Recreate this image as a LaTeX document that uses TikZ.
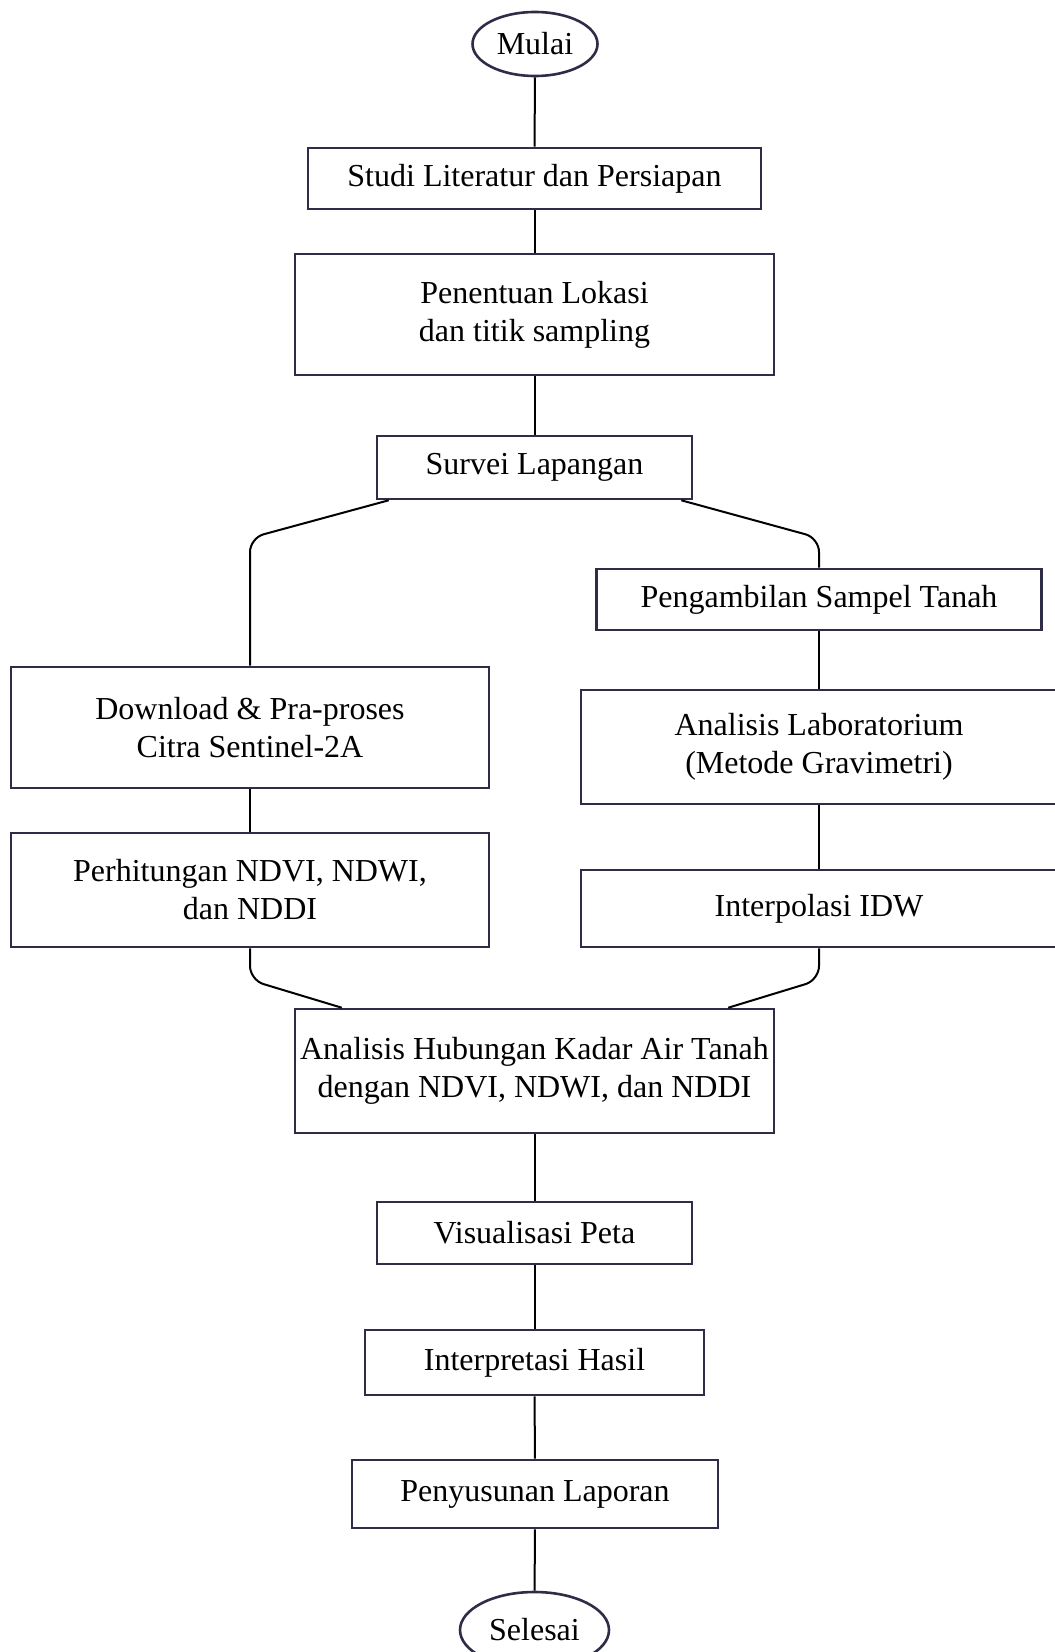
\documentclass[tikz,border=0pt]{standalone}
\usepackage{fontspec}
\setmainfont{Liberation Serif}
\usepackage{tikz}
\usetikzlibrary{positioning, shapes.geometric, calc}
\definecolor{boxline}{HTML}{2E2D48}

\begin{document}
\begin{tikzpicture}[x=0.5pt, y=-0.5pt, font=\fontsize{16}{19}\selectfont,
    main/.style = {draw=boxline, line width=1.3pt, rectangle, align=center, inner sep=0pt},
    term/.style = {draw=boxline, line width=1.3pt, ellipse, inner sep=0pt},
    link/.style = {black, line width=1pt, rounded corners=7pt}]
            \useasboundingbox (0,0) rectangle (1054,1652);
            \node[term, minimum width=62.5pt, minimum height=32pt] (mulai) at (535,44) {Mulai};
            \node[main, minimum width=226.5pt, minimum height=30.5pt] (studi) at (534.5,178.5) {Studi Literatur dan Persiapan};
            \node[main, minimum width=239.5pt, minimum height=60.5pt] (lokasi) at (534.5,314.5) {Penentuan Lokasi\\dan titik sampling};
            \node[main, minimum width=157.5pt, minimum height=31.5pt] (survei) at (534.5,467.5) {Survei Lapangan};
            \node[main, minimum width=222.5pt, minimum height=30.5pt] (sampel) at (819,599.5) {Pengambilan Sampel Tanah};
            \node[main, minimum width=238pt, minimum height=57pt] (lab) at (819,747) {Analisis Laboratorium\\(Metode Gravimetri)};
            \node[main, minimum width=238pt, minimum height=38.5pt] (idw) at (819,908.5) {Interpolasi IDW};
            \node[main, minimum width=239pt, minimum height=60.5pt] (download) at (250,727.5) {Download \& Pra-proses\\Citra Sentinel-2A};
            \node[main, minimum width=239pt, minimum height=57pt] (indeks) at (250,890) {Perhitungan NDVI, NDWI,\\dan NDDI};
            \node[main, minimum width=239.5pt, minimum height=62pt] (hubungan) at (534.5,1071) {Analisis Hubungan Kadar Air Tanah\\dengan NDVI, NDWI, dan NDDI};
            \node[main, minimum width=157.5pt, minimum height=31pt] (visual) at (534.5,1233) {Visualisasi Peta};
            \node[main, minimum width=169.5pt, minimum height=32.5pt] (interp) at (534.5,1362.5) {Interpretasi Hasil};
            \node[main, minimum width=183pt, minimum height=34pt] (laporan) at (535,1494) {Penyusunan Laporan};
            \node[term, minimum width=74.5pt, minimum height=38pt] (selesai) at (534.5,1630) {Selesai};

            \coordinate (kiri1) at (250,538);
            \coordinate (kanan1) at (819,538);
            \coordinate (kiri2) at (250,980);
            \coordinate (kanan2) at (819,980);

            \draw[link] (mulai) -- (studi);
            \draw[link] (studi) -- (lokasi);
            \draw[link] (lokasi) -- (survei);
            \draw[link] ([xshift=6.5pt]survei.south west) -- (kiri1) -- (download);
            \draw[link] ([xshift=-6pt]survei.south east) -- (kanan1) -- (sampel);
            \draw[link] (download) -- (indeks);
            \draw[link] (sampel) -- (lab);
            \draw[link] (lab) -- (idw);
            \draw[link] (indeks) -- (kiri2) -- ([xshift=24pt]hubungan.north west);
            \draw[link] (idw) -- (kanan2) -- ([xshift=-23.5pt]hubungan.north east);
            \draw[link] (hubungan) -- (visual);
            \draw[link] (visual) -- (interp);
            \draw[link] (interp) -- (laporan);
            \draw[link] (laporan) -- (selesai);
        \end{tikzpicture}
\end{document}
